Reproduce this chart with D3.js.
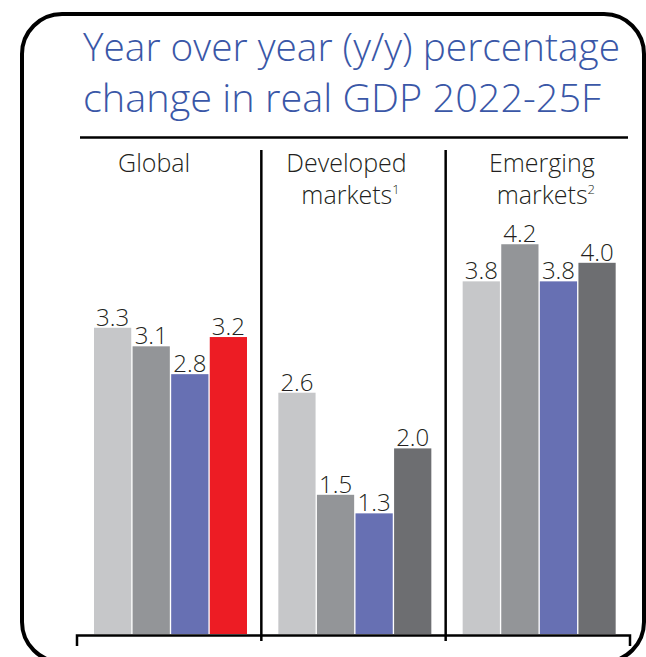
<!DOCTYPE html>
<html>
<head>
<meta charset="utf-8">
<script src="https://cdn.jsdelivr.net/npm/d3@7"></script>
<style>
  html, body { margin: 0; padding: 0; background: #fff; }
  svg { display: block; }
  text { font-family: "Open Sans", "Noto Sans", sans-serif; }
</style>
</head>
<body>
<svg id="chart" width="646" height="657"></svg>
<script>
// Markets shown as panels, with optional footnote markers
const regions = ["Global", "Developed markets", "Emerging markets"];
const regionLines = [["Global"], ["Developed", "markets"], ["Emerging", "markets"]];
const regionNotes = ["", "1", "2"];
// Years within each panel
const years = ["2022", "2023", "2024F", "2025F"];
// Real GDP growth, % y/y
const globalGrowth = [3.3, 3.1, 2.8, 3.2];
const developedGrowth = [2.6, 1.5, 1.3, 2.0];
const emergingGrowth = [3.8, 4.2, 3.8, 4.0];
const growth = [globalGrowth, developedGrowth, emergingGrowth];

const yearColors = ["#c6c7c9", "#939598", "#6770b3", "#6d6e71"];
const highlightColor = "#ed1c24"; // global 2025 forecast

const svg = d3.select("#chart");

// Frame
svg.append("rect")
  .attr("x", 22).attr("y", 14)
  .attr("width", 622).attr("height", 648)
  .attr("rx", 40).attr("ry", 40)
  .attr("fill", "none").attr("stroke", "#000").attr("stroke-width", 4);

// Title
const titleColor = "#3a57a7";
const titleLines = ["Year over year (y/y) percentage", "change in real GDP 2022-25F"];
const titleWidths = [537, 518];
titleLines.forEach((t, i) => {
  svg.append("text")
    .attr("x", 83).attr("y", 61 + i * 51)
    .attr("font-size", 39).attr("font-weight", 300)
    .attr("fill", titleColor)
    .attr("textLength", titleWidths[i])
    .attr("lengthAdjust", "spacingAndGlyphs")
    .text(t);
});
svg.append("line")
  .attr("x1", 80).attr("x2", 628)
  .attr("y1", 137.5).attr("y2", 137.5)
  .attr("stroke", "#000").attr("stroke-width", 2.5);

// Scales
const baseY = 634;
const x0 = d3.scaleBand().domain(regions).range([77, 630]).paddingInner(0).paddingOuter(0);
const x1 = d3.scaleBand().domain(years).range([17, 170]).paddingInner(0.035).paddingOuter(0);
const y = d3.scaleLinear().domain([0, 1]).range([baseY, baseY - 92.8]);

// Panel headings (slightly shifted from panel centres)
const headingShift = [-15, -7, 4];
regions.forEach((r, i) => {
  const cx = x0(r) + x0.bandwidth() / 2 + headingShift[i];
  regionLines[i].forEach((line, j) => {
    const last = j === regionLines[i].length - 1;
    const t = svg.append("text")
      .attr("x", cx + (last && regionNotes[i] ? 4 : 0))
      .attr("y", 172 + j * 32)
      .attr("text-anchor", "middle")
      .attr("font-size", 25).attr("font-weight", 300)
      .attr("fill", "#231f20");
    t.append("tspan").text(line);
    if (last && regionNotes[i]) {
      t.append("tspan").attr("font-size", 13).attr("dy", -10).text(regionNotes[i]);
    }
  });
});

// Bars and value labels
regions.forEach((r, i) => {
  const g = svg.append("g").attr("transform", `translate(${x0(r)},0)`);
  const data = years.map((yr, j) => ({ yr, v: growth[i][j], j }));
  g.selectAll("rect").data(data).join("rect")
    .attr("x", d => x1(d.yr))
    .attr("width", x1.bandwidth())
    .attr("y", d => y(d.v))
    .attr("height", d => y(0) - y(d.v))
    .attr("fill", d => (i === 0 && d.j === 3) ? highlightColor : yearColors[d.j]);
  g.selectAll("text").data(data).join("text")
    .attr("x", d => x1(d.yr) + x1.bandwidth() / 2)
    .attr("y", d => y(d.v) - 2)
    .attr("text-anchor", "middle")
    .attr("font-size", 24).attr("font-weight", 300)
    .attr("fill", "#231f20")
    .text(d => d3.format(".1f")(d.v));
});

// Panel dividers
regions.slice(1).forEach(r => {
  svg.append("line")
    .attr("x1", x0(r)).attr("x2", x0(r))
    .attr("y1", 150).attr("y2", 641)
    .attr("stroke", "#000").attr("stroke-width", 2.5);
});

// Baseline with end ticks
const x0End = x0.range()[1];
svg.append("path")
  .attr("d", `M${x0.range()[0]},646V${baseY + 1.5}H${x0End}V646`)
  .attr("fill", "none").attr("stroke", "#000").attr("stroke-width", 2.5);
</script>
</body>
</html>
